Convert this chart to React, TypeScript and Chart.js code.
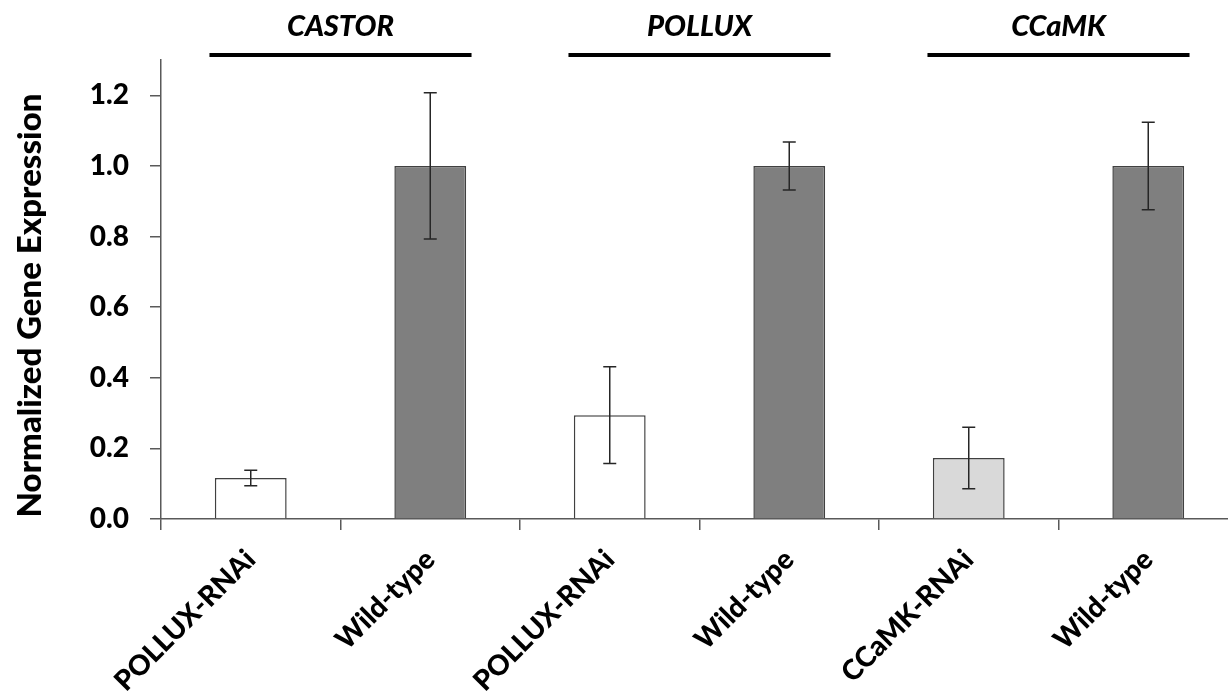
import React, { useEffect, useRef } from 'react';
import { Chart, registerables } from 'chart.js';

Chart.register(...registerables);

// Samples along the x axis
const samples = ['POLLUX-RNAi', 'Wild-type', 'POLLUX-RNAi', 'Wild-type', 'CCaMK-RNAi', 'Wild-type'];
// Relative expression (normalised to wild-type) and its error
const expression = [0.116, 1.0, 0.294, 1.0, 0.173, 1.0];
const errorSD = [0.022, 0.207, 0.137, 0.068, 0.087, 0.124];
const barColors = ['#ffffff', '#7f7f7f', '#ffffff', '#7f7f7f', '#d9d9d9', '#7f7f7f'];
// Gene measured by each pair of bars
const genes = ['CASTOR', 'POLLUX', 'CCaMK'];
const yTicks = [0, 0.2, 0.4, 0.6, 0.8, 1.0, 1.2];
const yMax = 1.3;
const yAxisTitle = 'Normalized Gene Expression';

const FONT = 'Lato, "Open Sans", sans-serif';
const WEIGHT = 900;
const AXIS = '#595959';

const errorBars = {
  id: 'errorBars',
  afterDatasetsDraw(chart: any) {
    const meta = chart.getDatasetMeta(0);
    const y = chart.scales.y;
    const ctx = chart.ctx;
    ctx.save();
    ctx.strokeStyle = '#262626';
    ctx.lineWidth = 1.5;
    meta.data.forEach((bar: any, i: number) => {
      const v = expression[i];
      const e = errorSD[i];
      const top = y.getPixelForValue(v + e);
      const bot = y.getPixelForValue(v - e);
      const cap = 6.5;
      ctx.beginPath();
      ctx.moveTo(bar.x, top);
      ctx.lineTo(bar.x, bot);
      ctx.moveTo(bar.x - cap, top);
      ctx.lineTo(bar.x + cap, top);
      ctx.moveTo(bar.x - cap, bot);
      ctx.lineTo(bar.x + cap, bot);
      ctx.stroke();
    });
    ctx.restore();
  },
};

const geneHeaders = {
  id: 'geneHeaders',
  afterDraw(chart: any) {
    const x = chart.scales.x;
    const ctx = chart.ctx;
    const top = chart.chartArea.top;
    const step = x.getPixelForValue(1) - x.getPixelForValue(0);
    ctx.save();
    genes.forEach((g, k) => {
      const cx = (x.getPixelForValue(2 * k) + x.getPixelForValue(2 * k + 1)) / 2;
      const half = step * 0.73;
      ctx.strokeStyle = '#000';
      ctx.lineWidth = 4;
      ctx.beginPath();
      ctx.moveTo(cx - half, top - 5);
      ctx.lineTo(cx + half, top - 5);
      ctx.stroke();
      ctx.fillStyle = '#000';
      ctx.font = `italic ${WEIGHT} 29px ${FONT}`;
      ctx.textAlign = 'center';
      ctx.textBaseline = 'alphabetic';
      ctx.fillText(g, cx, top - 24);
    });
    ctx.restore();
  },
};

const yTitle = {
  id: 'yTitle',
  afterDraw(chart: any) {
    const ctx = chart.ctx;
    const area = chart.chartArea;
    ctx.save();
    ctx.translate(30, (area.top + area.bottom) / 2 + 16);
    ctx.rotate(-Math.PI / 2);
    ctx.fillStyle = '#000';
    ctx.font = `${WEIGHT} 33px ${FONT}`;
    ctx.textAlign = 'center';
    ctx.textBaseline = 'middle';
    ctx.fillText(yAxisTitle, 0, 0);
    ctx.restore();
  },
};

export default function App() {
  const canvasRef = useRef<HTMLCanvasElement | null>(null);

  useEffect(() => {
    let chart: Chart | null = null;
    let cancelled = false;
    const build = () => {
      if (cancelled || !canvasRef.current) return;
      chart = new Chart(canvasRef.current, {
        type: 'bar',
        data: {
          labels: samples,
          datasets: [
            {
              data: expression,
              backgroundColor: barColors,
              borderColor: '#404040',
              borderWidth: 1.5,
              barPercentage: 0.4,
              categoryPercentage: 1.0,
            },
          ],
        },
        options: {
          responsive: false,
          animation: false,
          layout: { padding: { top: 60, left: 0, right: 0, bottom: 0 } },
          plugins: {
            legend: { display: false },
            tooltip: { enabled: false },
          },
          scales: {
            x: {
              afterFit(scale: any) {
                scale.height = 174;
              },
              grid: {
                offset: true,
                drawOnChartArea: false,
                tickLength: 11,
                color: AXIS,
                lineWidth: 1.5,
              },
              border: { color: AXIS, width: 1.5 },
              ticks: {
                minRotation: 45,
                maxRotation: 45,
                autoSkip: false,
                padding: 13,
                color: '#000',
                font: { family: FONT, size: 28, weight: WEIGHT as any },
              },
            },
            y: {
              min: 0,
              max: yMax,
              afterFit(scale: any) {
                scale.width = 161;
              },
              afterBuildTicks(scale: any) {
                scale.ticks = yTicks.map((v) => ({ value: v }));
              },
              grid: {
                drawOnChartArea: false,
                tickLength: 11,
                color: AXIS,
                lineWidth: 1.5,
              },
              border: { color: AXIS, width: 1.5 },
              ticks: {
                padding: 21,
                color: '#000',
                font: { family: FONT, size: 28, weight: WEIGHT as any },
                callback: (v: any) => Number(v).toFixed(1),
              },
            },
          },
        },
        plugins: [errorBars, geneHeaders, yTitle],
      });
    };
    const fontsReady = (document as any).fonts
      ? Promise.all([
          (document as any).fonts.load(`${WEIGHT} 28px Lato`),
          (document as any).fonts.load(`italic ${WEIGHT} 28px Lato`),
        ]).catch(() => null)
      : Promise.resolve(null);
    fontsReady.then(build);
    return () => {
      cancelled = true;
      if (chart) chart.destroy();
    };
  }, []);

  return (
    <div
      style={{
        position: 'fixed',
        left: 0,
        top: 0,
        width: 1228,
        height: 693,
        overflow: 'hidden',
        background: '#fff',
      }}
    >
      <canvas ref={canvasRef} width={1238} height={693} style={{ display: 'block' }} />
    </div>
  );
}
